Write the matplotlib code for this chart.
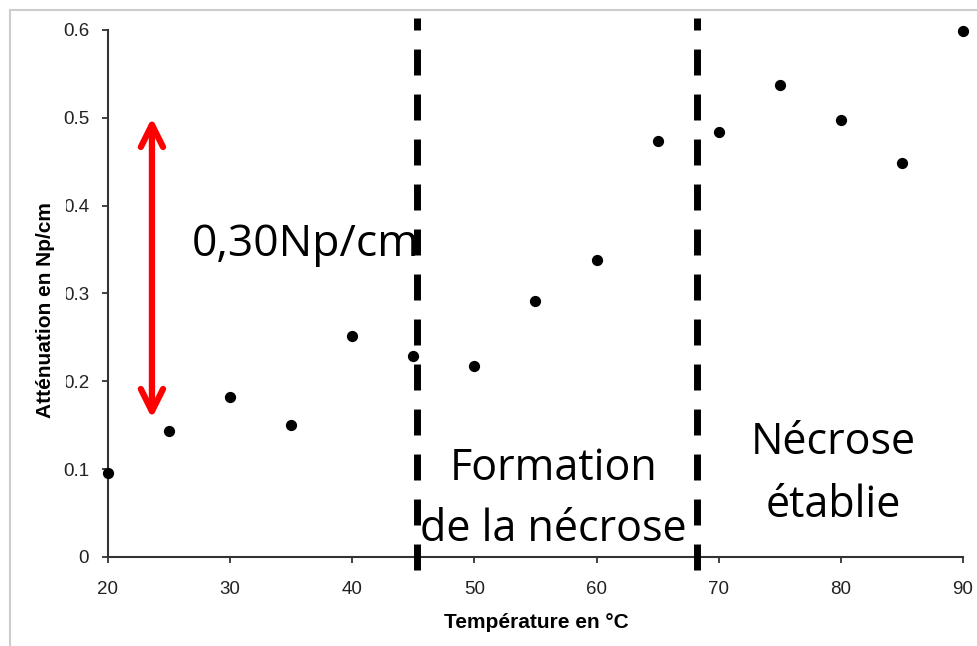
import numpy as np
import matplotlib.pyplot as plt
from matplotlib.lines import Line2D

# Données
temperature = [20, 25, 30, 35, 40, 45, 50, 55, 60, 65, 70, 75, 80, 85, 90]
attenuation = [0.096, 0.143, 0.182, 0.150, 0.252, 0.229, 0.217, 0.291, 0.338,
               0.474, 0.484, 0.537, 0.498, 0.448, 0.599]
limites = [45.3, 68.2]
x_ticks = [20, 30, 40, 50, 60, 70, 80, 90]
y_ticks = [0, 0.1, 0.2, 0.3, 0.4, 0.5, 0.6]
y_tick_labels = ["0", "0.1", "0.2", "0.3", "0.4", "0.5", "0.6"]

plt.rcParams["font.family"] = ["Liberation Sans", "DejaVu Sans"]

fig = plt.figure(figsize=(9.77, 6.46), dpi=100)
ax = fig.add_axes([0.1105, 0.1378, 0.8752, 0.8158])

# cadre gris clair (haut et gauche)
fig.add_artist(Line2D([0.0105, 0.0105], [0, 0.985], transform=fig.transFigure, color="#cccccc", lw=1.5))
fig.add_artist(Line2D([0.0105, 1], [0.985, 0.985], transform=fig.transFigure, color="#cccccc", lw=1.5))

ax.scatter(temperature, attenuation, s=50, color="black", zorder=5, clip_on=False)

# lignes de séparation (tracées du bas vers le haut)
for xl in limites:
    ax.plot([xl, xl], [-0.0148, 0.614], color="black", lw=5, linestyle=(0, (3.74, 2.74)),
            clip_on=False, zorder=4)

ax.annotate("", xy=(23.6, 0.5), xytext=(23.6, 0.158),
            arrowprops=dict(arrowstyle="<->,head_length=0.8,head_width=0.4",
                            color="red", lw=4.5, mutation_scale=20,
                            shrinkA=0, shrinkB=0))

big = ["Open Sans", "DejaVu Sans"]
ax.text(26.9, 0.343, "0,30Np/cm", fontsize=32, family=big, va="baseline", ha="left")
# va="baseline" : ligne de base de la dernière ligne
ax.text(56.45, 0.0182, "Formation\nde la nécrose", fontsize=31, family=big,
        ha="center", va="baseline", linespacing=1.5)
ax.text(79.4, 0.0456, "Nécrose\nétablie", fontsize=31, family=big,
        ha="center", va="baseline", linespacing=1.55)

ax.set_xlim(20, 90)
ax.set_ylim(0, 0.6)
ax.set_xticks(x_ticks)
ax.set_yticks(y_ticks)
ax.set_yticklabels(y_tick_labels)
ax.tick_params(direction="out", length=4.5, width=1.3, color="#333333",
               labelsize=13.5, labelcolor="#222222")
ax.tick_params(axis="x", pad=13)
ax.tick_params(axis="y", pad=9)
for s in ["top", "right"]:
    ax.spines[s].set_visible(False)
for s in ["left", "bottom"]:
    ax.spines[s].set_color("#333333")
    ax.spines[s].set_linewidth(1.5)

ax.set_xlabel("Température en °C", fontsize=15, fontweight="bold")
ax.xaxis.set_label_coords(0.501, -0.106)
ylab = ax.set_ylabel("Atténuation en Np/cm", fontsize=15, fontweight="bold")
ylab.set_bbox(dict(facecolor="white", edgecolor="none", pad=8))
ax.yaxis.set_label_coords(-0.062, 0.469)

fig.savefig("out.png", dpi=100, facecolor="white")
